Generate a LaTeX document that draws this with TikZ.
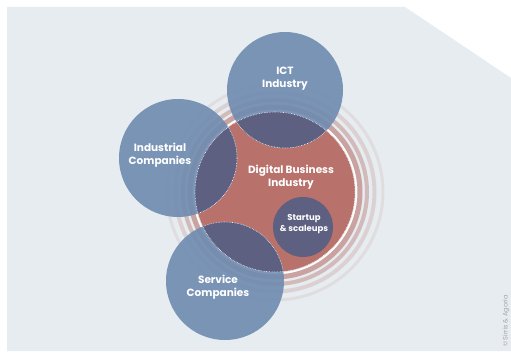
\documentclass[tikz,border=0pt]{standalone}
\usepackage{fontspec}
\setmainfont{Poppins}
\usepackage{tikz}
\usetikzlibrary{positioning}

\definecolor{bgblue}{HTML}{E6ECF0}
\definecolor{circblue}{HTML}{6F8BB0}
\definecolor{deepblue}{HTML}{5D6080}
\definecolor{dbired}{HTML}{B8716B}

\tikzset{
	blob/.style={circle, inner sep=0pt, fill=circblue, fill opacity=0.9},
	lbl/.style={text=white, align=center, font=\bfseries\fontsize{10.5}{13}\selectfont},
}

\begin{document}
\begin{tikzpicture}[x=1pt, y=-1pt]
	\useasboundingbox (0,0) rectangle (511,361);
	\fill[white] (0,0) rectangle (511,361);
	\fill[bgblue] (7,7) -- (405,7) -- (511,78) -- (511,351) -- (7,351) -- cycle;

	% rings
	\coordinate (mid) at (275,192);
	\draw[white, line width=1.5pt] (mid) circle (81.5pt);
	\draw[dbired, opacity=.6, line width=5pt] (mid) circle (85pt);
	\draw[dbired, opacity=.4, line width=4pt] (mid) circle (92pt);
	\draw[dbired, opacity=.22, line width=4pt] (mid) circle (99.5pt);
	\draw[dbired, opacity=.12, line width=3pt] (mid) circle (108pt);

	\node[circle, inner sep=0pt, fill=dbired, minimum size=160pt] (dbi) at (mid) {};

	\node[blob, minimum size=116pt] (ict) at (285,90) {};
	\node[blob, minimum size=118pt] (ind) at (178,158) {};
	\node[blob, minimum size=118pt] (srv) at (225,281) {};

	% overlaps
	\begin{scope}
		\clip (mid) circle (80pt);
		\foreach \c/\r in {ict/58, ind/59, srv/59}
			\fill[deepblue] (\c) circle (\r pt);
		\foreach \c/\r in {ict/58, ind/59, srv/59}
			\draw[white, densely dotted, line width=.6pt] (\c) circle (\r pt);
	\end{scope}
	\draw[white, densely dotted, line width=.6pt] (mid) circle (80pt);

	\node[circle, inner sep=0pt, fill=deepblue, minimum size=60pt] (su) at (303,227) {};

	\node[lbl] (ictt) at (285,79) {ICT\\Industry};
	\node[lbl] (indt) at (160,155) {Industrial\\Companies};
	\node[lbl] (dbit) at (291,177) {Digital Business\\Industry};
	\node[lbl, font=\bfseries\fontsize{8.5}{10.5}\selectfont] (sut) at (304,224) {Startup\\\& scaleups};
	\node[lbl] (srvt) at (218,287) {Service\\Companies};

	\node[rotate=90, text=gray!70, font=\fontsize{6.5}{7}\selectfont] (copy) at (506,321) {\textcopyright{} Sirris \& Agoria};
\end{tikzpicture}
\end{document}
